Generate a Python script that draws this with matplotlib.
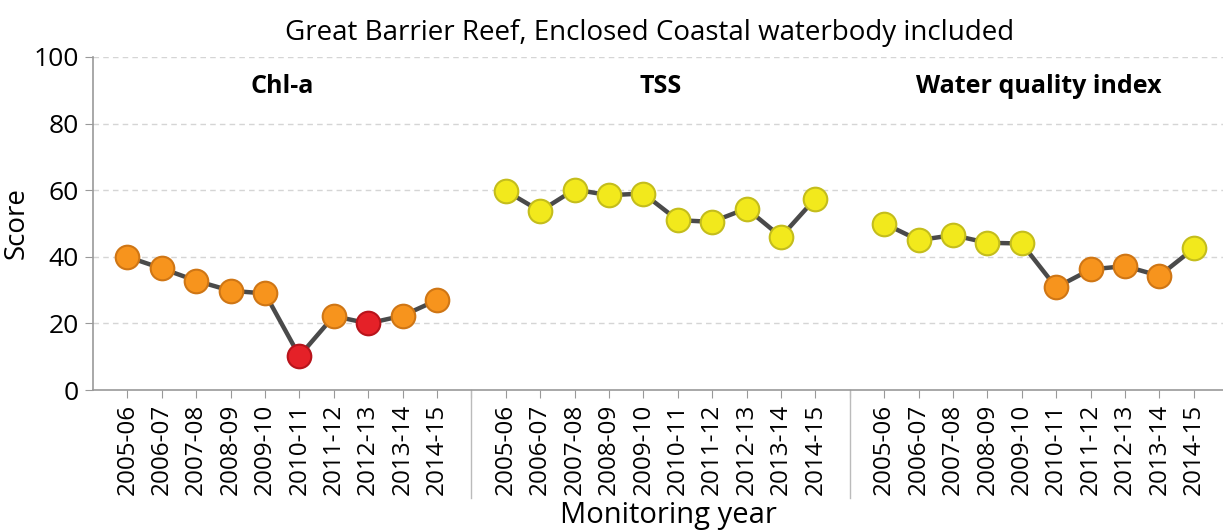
import matplotlib.pyplot as plt

plt.rcParams['font.family'] = ['Open Sans', 'DejaVu Sans']

years = ["2005-06", "2006-07", "2007-08", "2008-09", "2009-10",
         "2010-11", "2011-12", "2012-13", "2013-14", "2014-15"]
panels = ["Chl-a", "TSS", "Water quality index"]

chla = [40.0, 36.5, 32.8, 29.8, 29.0, 10.2, 22.2, 20.0, 22.3, 27.0]
tss = [59.8, 53.7, 60.2, 58.5, 59.0, 51.0, 50.5, 54.5, 46.0, 57.5]
wqi = [50.0, 45.0, 46.5, 44.2, 44.0, 30.8, 36.2, 37.2, 34.3, 42.5]

#Report card grade colours (face, edge)
def grade_colour(score):
    if score < 21:
        return "#e52128", "#b8141b"
    if score < 41:
        return "#f7941d", "#cf7615"
    if score < 61:
        return "#f2e91c", "#c4bd1c"
    return "#8dc63f", "#6a9a2c"

fig = plt.figure(figsize=(12.23, 5.32), dpi=100)
ax = fig.add_axes([93/1223, 1 - 390/532, 1 - 93/1223, (390 - 57)/532])

n = len(years)
ticks = []
labels = []
for p, (name, vals) in enumerate(zip(panels, [chla, tss, wqi])):
    start = p * (n + 1)
    xs = list(range(start, start + n))
    ax.plot(xs, vals, color="#4a4a4a", lw=3.2, zorder=2)
    for x, v in zip(xs, vals):
        face, edge = grade_colour(v)
        ax.plot(x, v, 'o', ms=17, mfc=face, mec=edge, mew=1.5, zorder=3)
    ax.text(start + (n - 1) / 2, 91, name, ha="center", va="center",
            fontsize=18, fontweight="bold")
    ticks += xs
    labels += years
    #Group divider below the axis
    if p < len(panels) - 1:
        sep = start + n
        ticks.append(sep)
        labels.append("")
        ax.plot([sep, sep], [0, -0.325], color="#bbbbbb", lw=1,
                transform=ax.get_xaxis_transform(), clip_on=False)

ax.set_xlim(-1, 31.85)
ax.set_ylim(0, 100)
ax.set_xticks(ticks)
ax.set_xticklabels(labels, rotation=90, fontsize=17.5)
ax.set_yticks([0, 20, 40, 60, 80, 100])
ax.tick_params(axis="y", labelsize=19, length=6, color="#999999", pad=4)
ax.tick_params(axis="x", length=6, color="#999999", pad=4)

for y in [20, 40, 60, 80, 100]:
    ax.axhline(y, color="#d5d5d5", lw=1, ls=(0, (4, 3)), zorder=1)

for s in ["top", "right"]:
    ax.spines[s].set_visible(False)
for s in ["left", "bottom"]:
    ax.spines[s].set_color("#999999")
    ax.spines[s].set_linewidth(1.2)

ax.set_ylabel("Score", fontsize=20, labelpad=2)
fig.text(668/1223, 1 - 515/532, "Monitoring year", ha="center", va="center",
         fontsize=21)
fig.text(650/1223, 1 - 33/532, "Great Barrier Reef, Enclosed Coastal waterbody included",
         ha="center", va="center", fontsize=20)

plt.savefig("out.png", dpi=100)
